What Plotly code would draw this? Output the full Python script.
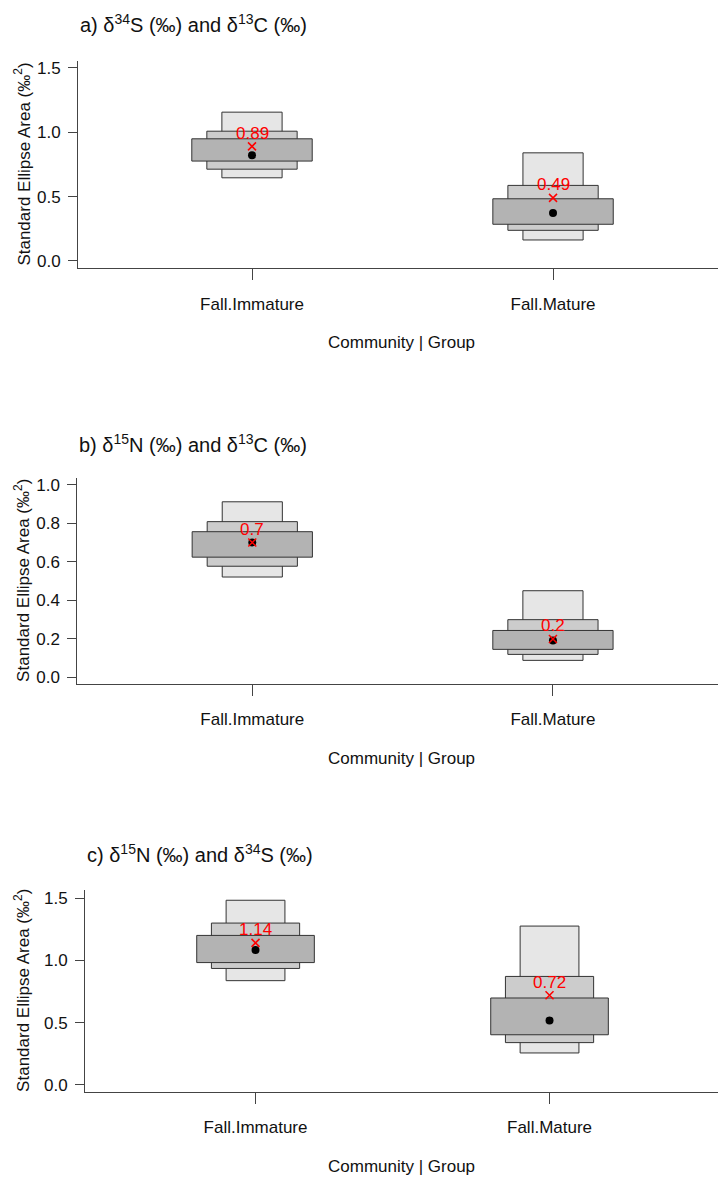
import plotly.graph_objects as go

W, H = 718, 1178

groups = ["Fall.Immature", "Fall.Mature"]
xpos = [1, 2]

titles = [
    "a) δ<sup>34</sup>S (‰) and δ<sup>13</sup>C (‰)",
    "b) δ<sup>15</sup>N (‰) and δ<sup>13</sup>C (‰)",
    "c) δ<sup>15</sup>N (‰) and δ<sup>34</sup>S (‰)",
]

# Credible intervals of SEA_B (95 %, 75 %, 50 %), mode and ML estimate (SEA_c)
a_lo95 = [0.646, 0.163]; a_hi95 = [1.156, 0.840]
a_lo75 = [0.713, 0.238]; a_hi75 = [1.008, 0.587]
a_lo50 = [0.776, 0.285]; a_hi50 = [0.949, 0.483]
a_mode = [0.822, 0.372]
a_ml = [0.89, 0.49]

b_lo95 = [0.521, 0.089]; b_hi95 = [0.911, 0.450]
b_lo75 = [0.577, 0.120]; b_hi75 = [0.808, 0.300]
b_lo50 = [0.624, 0.146]; b_hi50 = [0.756, 0.244]
b_mode = [0.700, 0.192]
b_ml = [0.7, 0.2]

c_lo95 = [0.837, 0.257]; c_hi95 = [1.482, 1.275]
c_lo75 = [0.935, 0.340]; c_hi75 = [1.299, 0.871]
c_lo50 = [0.982, 0.403]; c_hi50 = [1.200, 0.698]
c_mode = [1.084, 0.518]
c_ml = [1.14, 0.72]

panels = [
    dict(lo=[a_lo95, a_lo75, a_lo50], hi=[a_hi95, a_hi75, a_hi50], mode=a_mode, ml=a_ml,
         left=78, top=59.3, bot=267.3, xr=[0.422, 2.548], yr=[-0.056, 1.553],
         ytv=[0, 0.5, 1.0, 1.5], ty=22),
    dict(lo=[b_lo95, b_lo75, b_lo50], hi=[b_hi95, b_hi75, b_hi50], mode=b_mode, ml=b_ml,
         left=77.3, top=477.7, bot=685, xr=[0.418, 2.549], yr=[-0.034, 1.036],
         ytv=[0, 0.2, 0.4, 0.6, 0.8, 1.0], ty=443),
    dict(lo=[c_lo95, c_lo75, c_lo50], hi=[c_hi95, c_hi75, c_hi50], mode=c_mode, ml=c_ml,
         left=85, top=891.7, bot=1094.5, xr=[0.420, 2.573], yr=[-0.055, 1.565],
         ytv=[0, 0.5, 1.0, 1.5], ty=855),
]

widths = [0.2, 0.3, 0.4]
fills = ["#E6E6E6", "#CCCCCC", "#B3B3B3"]

FONT = "Liberation Sans, Arial, sans-serif"
AX = "#444444"
TXT = "#111111"

def px(x):
    return x / W

def py(y):
    return 1 - y / H

fig = go.Figure()
annotations = []
layout = {}

for i, p in enumerate(panels):
    n = "" if i == 0 else str(i + 1)
    xa, ya = "x" + n, "y" + n
    for k in range(3):
        fig.add_trace(go.Bar(
            x=xpos, base=p["lo"][k],
            y=[h - l for h, l in zip(p["hi"][k], p["lo"][k])],
            width=widths[k], marker=dict(color=fills[k], line=dict(color="#333333", width=1)),
            xaxis=xa, yaxis=ya, showlegend=False, hoverinfo="skip"))
    fig.add_trace(go.Scatter(
        x=xpos, y=p["mode"], mode="markers",
        marker=dict(color="black", size=8, symbol="circle"),
        xaxis=xa, yaxis=ya, showlegend=False))
    fig.add_trace(go.Scatter(
        x=xpos, y=p["ml"], mode="markers",
        marker=dict(color="red", size=8, symbol="x-thin", line=dict(color="red", width=1.5)),
        xaxis=xa, yaxis=ya, showlegend=False))
    for xv, mv in zip(xpos, p["ml"]):
        annotations.append(dict(
            x=xv, y=mv, xref=xa, yref=ya, text=str(mv), showarrow=False,
            yshift=13, font=dict(color="red", size=17, family=FONT)))

    layout["xaxis" + n] = dict(
        domain=[px(p["left"]), 1.0], anchor=ya, range=p["xr"],
        tickvals=xpos, ticktext=groups, ticks="outside", ticklen=11, tickcolor=AX,
        showline=True, linecolor=AX, linewidth=1, showgrid=False, zeroline=False,
        ticklabelstandoff=9, tickfont=dict(size=17, family=FONT, color=TXT))
    layout["yaxis" + n] = dict(
        domain=[py(p["bot"]), py(p["top"])], anchor=xa, range=p["yr"],
        tickvals=p["ytv"], tickformat=".1f", ticks="outside", ticklen=9, tickcolor=AX,
        showline=True, linecolor=AX, linewidth=1, showgrid=False, zeroline=False,
        ticklabelstandoff=4, tickfont=dict(size=17, family=FONT, color=TXT))

    annotations.append(dict(
        x=px(p["left"]), y=py(p["ty"]), xref="paper", yref="paper", text=titles[i],
        showarrow=False, xanchor="left", yanchor="middle",
        font=dict(size=20, family=FONT, color=TXT)))
    annotations.append(dict(
        x=px(22), y=py((p["top"] + p["bot"]) / 2), xref="paper", yref="paper",
        text="Standard Ellipse Area (‰<sup>2</sup>)", textangle=-90, showarrow=False,
        xanchor="center", yanchor="middle",
        font=dict(size=17, family=FONT, color=TXT)))
    annotations.append(dict(
        x=px(401), y=py(p["bot"] + 75), xref="paper", yref="paper",
        text="Community | Group", showarrow=False, xanchor="center", yanchor="middle",
        font=dict(size=17, family=FONT, color=TXT)))

fig.update_layout(
    width=W, height=H, margin=dict(l=0, r=0, t=0, b=0),
    paper_bgcolor="white", plot_bgcolor="white", barmode="overlay",
    annotations=annotations, **layout)

fig.write_html("out.html", config={"displayModeBar": False},
               post_script="document.body.style.margin='0';document.body.style.overflow='hidden';")
